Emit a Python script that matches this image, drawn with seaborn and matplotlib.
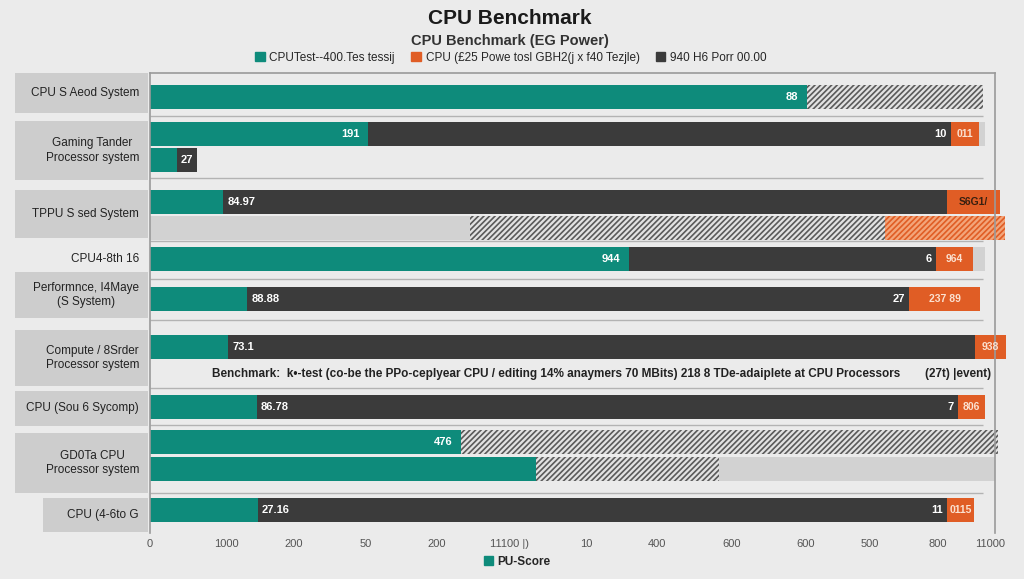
import numpy as np
import pandas as pd
import matplotlib.pyplot as plt
from matplotlib.patches import Patch, Rectangle
import seaborn as sns

# ---- data ----
systems = ["CPU S Aeod System", "Gaming Tander\nProcessor system", "TPPU S sed System",
           "CPU4-8th 16", "Performnce, I4Maye\n(S System)", "Compute / 8Srder\nProcessor system",
           "CPU (Sou 6 Sycomp)", "GD0Ta CPU\nProcessor system", "CPU (4-6to G"]
has_box = [True, True, True, False, True, True, True, True, True]

# segment ends per bar row (0 = no segment)
teal = [860, 285, 35, 96, 0, 627, 127, 102, 140, 407, 505, 141]
dark = [0, 1049, 62, 1044, 0, 1029, 994, 1080, 1058, 0, 0, 1044]
orange = [0, 1086, 0, 1113, 0, 1078, 1087, 1121, 1093, 0, 0, 1079]
hatch_gray = [1091, 0, 0, 0, 962, 0, 0, 0, 0, 1110, 745, 0]
hatch_orange = [0, 0, 0, 0, 1120, 0, 0, 0, 0, 0, 0, 0]
track = [0, 1093, 0, 0, 0, 1093, 0, 0, 0, 0, 1106, 0]
filler = [0, 0, 0, 0, 419, 0, 0, 0, 0, 0, 0, 0]

teal_labels = ["88", "191", "", "", "", "944", "", "", "", "476", "", ""]
dark_left_labels = ["", "", "27", "84.97", "", "", "88.88", "73.1", "86.78", "", "", "27.16"]
dark_right_labels = ["", "10", "", "", "", "6", "27", "", "7", "", "", "11"]
orange_labels = ["", "011", "", "S6G1/", "", "964", "237 89", "938", "806", "", "", "0115"]

tick_labels = ["0", "1000", "200", "50", "200", "11100 |)", "10", "400",
               "600", "600", "500", "800", "11000"]
legend_top = ["CPUTest--400.Tes tessij", "CPU (£25 Powe tosl GBH2(j x f40 Tezjle)", "940 H6 Porr 00.00"]
note = "Benchmark:  k\u2022-test (co-be the PPo-ceplyear CPU / editing 14% anaymers 70 MBits) 218 8 TDe-adaiplete at CPU Processors"

# ---- layout (figure pixels) ----
W, H = 1024, 579
row_y = [97, 134, 160, 202, 228, 259, 299, 347, 407, 442, 469, 510]
box_spans = [(73, 113), (121, 180), (190, 238), (247, 271), (272, 318),
             (330, 386), (391, 426), (433, 493), (498, 532)]
seps = [116, 178, 241, 279, 320, 388, 425, 493]

TEAL, DARK, ORANGE = "#0e8b7b", "#3b3b3b", "#e05d25"
BG = "#ebebeb"

sns.set_theme(style="white")
plt.rcParams["font.family"] = ["Liberation Sans", "DejaVu Sans"]
plt.rcParams["hatch.linewidth"] = 1.2

df = pd.DataFrame({"row_y": row_y, "teal": teal, "dark": dark, "orange": orange,
                   "hatch_gray": hatch_gray, "hatch_orange": hatch_orange,
                   "track": track, "filler": filler})

fig = plt.figure(figsize=(W / 100, H / 100), dpi=100, facecolor=BG)
ax = fig.add_axes([150 / W, 1 - 533 / H, 845 / W, (533 - 73) / H], facecolor=BG)

ax.hlines(seps, 0, 1091, color="#b3b3b3", lw=1, zorder=0)

common = dict(y="row_y", orient="y", native_scale=True, width=0.9, saturation=1,
              errorbar=None, ax=ax, linewidth=0, clip_on=False)
# draw back to front so each layer overlays the longer ones
sns.barplot(data=df, x="track", color="#d2d2d2", **common)
sns.barplot(data=df, x="hatch_orange", color="#f3a57a", hatch="//////", edgecolor=ORANGE, **common)
sns.barplot(data=df, x="hatch_gray", color="#e2e2e2", hatch="//////", edgecolor="#5a5a5a", **common)
sns.barplot(data=df, x="filler", color="#d2d2d2", **common)
sns.barplot(data=df, x="orange", color=ORANGE, **common)
sns.barplot(data=df, x="dark", color=DARK, **common)
sns.barplot(data=df, x="teal", color=TEAL, **common)

# value labels
for i, y in enumerate(row_y):
    if teal_labels[i]:
        ax.annotate(teal_labels[i], (teal[i], y), xytext=(-6, 0), textcoords="offset points",
                    ha="right", va="center", color="white", fontsize=8, fontweight="bold")
    if dark_left_labels[i]:
        ax.annotate(dark_left_labels[i], (teal[i], y), xytext=(3, 0), textcoords="offset points",
                    ha="left", va="center", color="white", fontsize=8, fontweight="bold")
    if dark_right_labels[i]:
        ax.annotate(dark_right_labels[i], (dark[i], y), xytext=(-3, 0), textcoords="offset points",
                    ha="right", va="center", color="white", fontsize=8, fontweight="bold")
    if orange_labels[i]:
        col = "#3a2010" if i == 3 else "#fbe1d0"
        ax.annotate(orange_labels[i], ((dark[i] + orange[i]) / 2, y), ha="center", va="center",
                    color=col, fontsize=7.5, fontweight="bold", annotation_clip=False)

ax.text(81, 374, note, ha="left", va="center", fontsize=8.5, fontweight="bold", color="#222222")
ax.text(1102, 374, "(27t) |event)", ha="right", va="center", fontsize=8.5, fontweight="bold", color="#222222")

ax.set_xlim(0, 1106.5)
ax.set_ylim(533, 73)
ax.set_xticks([0, 100, 188, 283, 376, 471, 571, 664, 761, 858, 943, 1031, 1100])
ax.set_xticklabels(tick_labels, fontsize=8, color="#555555")
ax.set_yticks([])
ax.set_xlabel("")
ax.set_ylabel("")
ax.tick_params(axis="x", length=0, pad=4)
for s in ["left", "right", "top"]:
    ax.spines[s].set_color("#9a9a9a")
    ax.spines[s].set_linewidth(1.2)
ax.spines["bottom"].set_visible(False)

# category boxes on the left
for name, (t, b), box in zip(systems, box_spans, has_box):
    left = 43 if name.startswith("CPU (4") else 15
    if box:
        fig.add_artist(Rectangle((left / W, 1 - b / H), (148 - left) / W, (b - t) / H,
                                 transform=fig.transFigure, facecolor="#cdcdcd", edgecolor="none"))
    fig.text(139 / W, 1 - (t + b) / 2 / H, name, ha="right", va="center", multialignment="center",
             fontsize=8.5, color="#222222", linespacing=1.3)

fig.text(510 / W, 1 - 18 / H, "CPU Benchmark", ha="center", va="center",
         fontsize=15, fontweight="bold", color="#1a1a1a")
fig.text(510 / W, 1 - 41 / H, "CPU Benchmark (EG Power)", ha="center", va="center",
         fontsize=10.5, fontweight="bold", color="#333333")

handles = [Patch(color=c) for c in [TEAL, ORANGE, DARK]]
fig.legend(handles, legend_top, loc="center", bbox_to_anchor=(511 / W, 1 - 58 / H), ncol=3,
           frameon=False, fontsize=8.5, handlelength=0.8, handleheight=0.8,
           handletextpad=0.4, columnspacing=1.4)
fig.legend([Patch(color=TEAL)], ["PU-Score"], loc="center", bbox_to_anchor=(517 / W, 1 - 562 / H),
           frameon=False, fontsize=8.5, handlelength=0.8, handleheight=0.8, handletextpad=0.3,
           prop={"weight": "bold", "size": 8.5})

fig.savefig("out.png", dpi=100, facecolor=BG)
